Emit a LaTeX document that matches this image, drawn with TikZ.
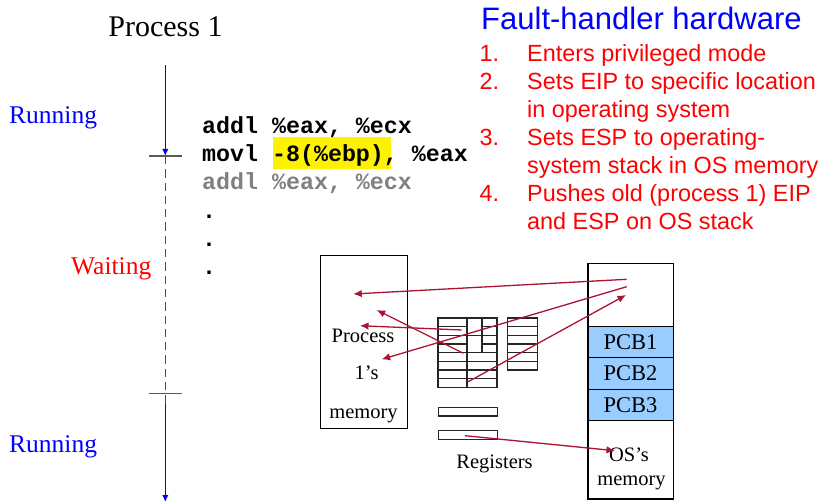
\documentclass[tikz,border=0pt]{standalone}
\usepackage{fontspec}
\setmainfont{Liberation Serif}
\newfontfamily\arialf{Liberation Sans}
\newfontfamily\courf{Liberation Mono}
\usetikzlibrary{arrows.meta}
\definecolor{arrred}{RGB}{170,20,50}
\definecolor{pcbblue}{RGB}{153,204,255}
\definecolor{tickgray}{RGB}{90,90,90}
\definecolor{codegray}{RGB}{128,128,128}
\begin{document}
\begin{tikzpicture}[x=1pt,y=-1pt,
  membox/.style={draw=black, line width=1.2pt, inner sep=0pt},
  pcbbox/.style={draw=black, line width=1.2pt, fill=pcbblue, inner sep=0pt,
    minimum width=85.4pt, minimum height=31.3pt, anchor=north west,
    font=\fontsize{22.5}{26}\selectfont},
  gridline/.style={draw=black!85, line width=1.3pt},
  ptr/.style={draw=arrred, line width=1.3pt, -{Latex[length=8.5pt,width=7.5pt]}},
  lbl/.style={font=\fontsize{20.5}{24}\selectfont, inner sep=0pt, anchor=base},
  code/.style={font=\courf\bfseries\fontsize{23.3}{28}\selectfont, inner sep=0pt, anchor=base west},
  fh/.style={font=\arialf\fontsize{23.4}{28}\selectfont, text=red, inner sep=0pt, anchor=base west},
  statelbl/.style={font=\fontsize{25.5}{30}\selectfont, inner sep=0pt, anchor=base west},
  tl/.style={line width=1.4pt},
  tick/.style={draw=tickgray, line width=1.4pt},
]
\useasboundingbox (0,0) rectangle (822,502);

% ---------- titles ----------
\node[font=\fontsize{30}{36}\selectfont, anchor=base, inner sep=0pt] (ptitle) at (165.5,36.7) {Process 1};
\node[font=\arialf\fontsize{31}{36}\selectfont, text=blue, anchor=base west, inner sep=0pt] (fhtitle) at (481,29.3) {Fault-handler hardware};

% ---------- fault handler list ----------
\node[fh] (n1) at (479.5,61.7) {1.};
\node[fh] (l1) at (527,61.7) {Enters privileged mode};
\node[fh] (n2) at (479.5,89.7) {2.};
\node[fh] (l2a) at (527,89.7) {Sets EIP to specific location};
\node[fh] (l2b) at (527,117.7) {in operating system};
\node[fh] (n3) at (479.5,145.7) {3.};
\node[fh] (l3a) at (527,145.7) {Sets ESP to operating-};
\node[fh] (l3b) at (527,173.7) {system stack in OS memory};
\node[fh] (n4) at (479.5,201.7) {4.};
\node[fh] (l4a) at (527,201.7) {Pushes old (process 1) EIP};
\node[fh] (l4b) at (527,229.7) {and ESP on OS stack};

% ---------- state labels ----------
\node[statelbl, text=blue] (run1) at (9,124) {Running};
\node[statelbl, text=red] (wait) at (71,275) {Waiting};
\node[statelbl, text=blue] (run2) at (9,452.7) {Running};

% ---------- timeline ----------
\coordinate (t0) at (165.3,65.3);
\coordinate (t1) at (165.3,156);
\coordinate (t2) at (165.3,393.7);
\coordinate (t3) at (165.3,404);
\coordinate (t4) at (165.3,502);
\draw[tl, blue, -{Latex[length=7pt,width=6.5pt]}] (t0) -- (t1);
\draw[tl, red, dash pattern=on 8.3pt off 5pt] (t1) -- (t3);
\draw[tl, blue, -{Latex[length=7pt,width=6.5pt]}] (t3) -- (t4);
\draw[tick] ([xshift=-16.2pt]t1) -- ([xshift=16.2pt]t1);
\draw[tick] ([xshift=-16.2pt]t2) -- ([xshift=16.2pt]t2);

% ---------- code ----------
\fill[yellow] (273,137) rectangle (391,169);
\node[code] (c1) at (202,133.5) {addl \%eax, \%ecx};
\node[code] (c2) at (202,161.7) {movl -8(\%ebp), \%eax};
\node[code, text=codegray] (c3) at (202,190) {addl \%eax, \%ecx};
\node[code] (d1) at (202,218.3) {.};
\node[code] (d2) at (202,246.6) {.};
\node[code] (d3) at (202,274.9) {.};

% ---------- process 1 memory ----------
\node[membox, minimum width=86.7pt, minimum height=173.3pt, anchor=north west] (p1mem) at (320,255) {};
\node[lbl] (p1a) at (363,342.7) {Process};
\node[lbl] (p1b) at (366.7,380) {1’s};
\node[lbl] (p1c) at (363.5,418.3) {memory};

% ---------- OS memory ----------
\node[membox, minimum width=85.4pt, minimum height=235pt, anchor=north west] (osmem) at (587.3,263.3) {};
\node[pcbbox] (pcb1) at (587.3,326) {PCB1};
\node[pcbbox] (pcb2) at (587.3,357.3) {PCB2};
\node[pcbbox] (pcb3) at (587.3,388.6) {PCB3};
\node[lbl] (osa) at (629,461.7) {OS’s};
\node[lbl] (osb) at (631.5,485) {memory};

% ---------- registers ----------
% left grid: 8 rows between y=318 and 387.3
\draw[gridline] (438,318) rectangle (497,387.3);
\foreach \k in {2,4,5,6,7} {
  \draw[gridline] (438,318+8.6625*\k) -- (497,318+8.6625*\k);
}
\foreach \k in {1,3} {
  \draw[gridline] (438,318+8.6625*\k) -- (467,318+8.6625*\k);
  \draw[gridline] (482,318+8.6625*\k) -- (497,318+8.6625*\k);
}
\draw[gridline] (467,318) -- (467,387.3);
\draw[gridline] (482,318) -- (482,352.65);
% right grid: 6 rows between y=318 and 370
\draw[gridline] (507.3,318) rectangle (537.3,370);
\foreach \k in {1,...,5} {
  \draw[gridline] (507.3,318+8.6667*\k) -- (537.3,318+8.6667*\k);
}
% two single registers
\node[draw=black!85, line width=1.3pt, inner sep=0pt, minimum width=59pt, minimum height=8.6pt, anchor=north west] (reg1) at (438,406.7) {};
\node[draw=black!85, line width=1.3pt, inner sep=0pt, minimum width=59pt, minimum height=9pt, anchor=north west] (reg2) at (438,430) {};
\node[lbl] (regs) at (494.5,468.3) {Registers};

% ---------- pointer arrows ----------
\coordinate (osA) at (626.7,279.3);
\coordinate (osB) at (626.7,286.7);
\coordinate (osC) at (626,295);
\coordinate (osD) at (615,450.7);
\coordinate (pm1) at (353.3,294);
\coordinate (pm2) at (381.7,359.3);
\coordinate (pm3) at (360,325.7);
\coordinate (pm4) at (376.7,310);
\coordinate (rg1) at (461.7,330);
\coordinate (rg2) at (463.3,353.3);
\coordinate (rg3) at (468.3,381.7);
\coordinate (rg4) at (465,435.7);
\draw[ptr] (osA) -- (pm1);
\draw[ptr] (osB) -- (pm2);
\draw[ptr] (rg3) -- (osC);
\draw[ptr] (rg1) -- (pm3);
\draw[ptr] (rg2) -- (pm4);
\draw[ptr] (rg4) -- (osD);
\end{tikzpicture}
\end{document}
